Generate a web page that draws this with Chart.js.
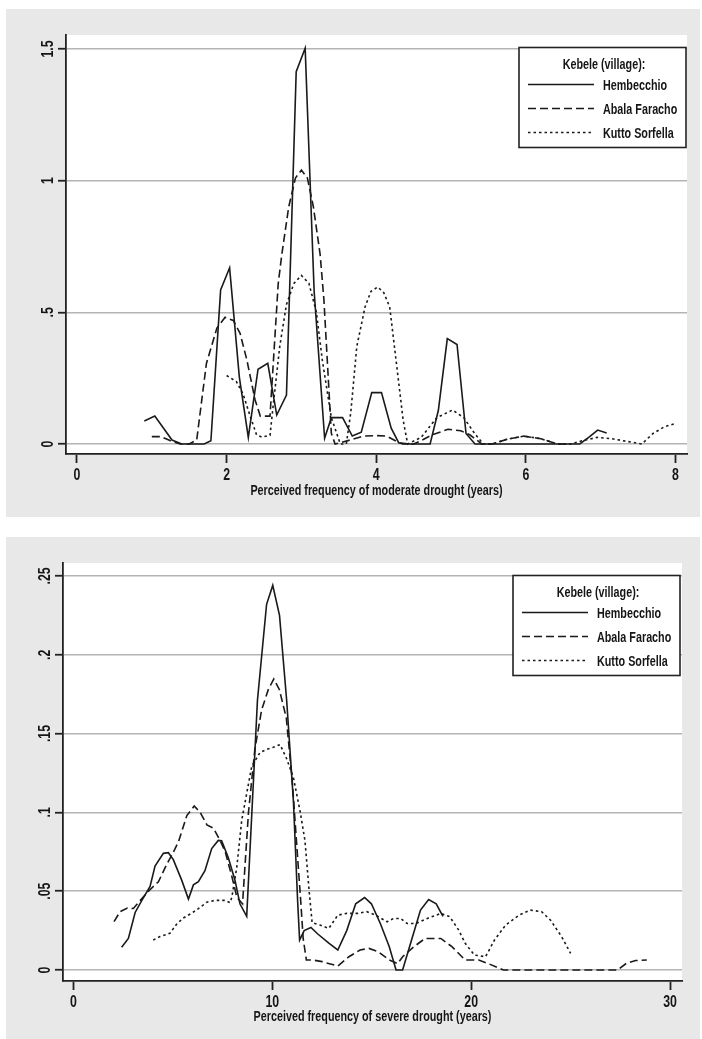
<!DOCTYPE html>
<html>
<head>
<meta charset="utf-8">
<script src="https://cdn.jsdelivr.net/npm/chart.js@4"></script>
<style>
  body { margin: 0; background: #fff; }
  .panel { position: absolute; left: 6px; width: 694px; background: #e8e8e8; }
  .panel canvas { display: block; }
  #top { top: 9px; height: 508px; }
  #bottom { top: 537px; height: 502px; }
</style>
</head>
<body>
<div class="panel" id="top"><canvas id="moderate" width="694" height="508"></canvas></div>
<div class="panel" id="bottom"><canvas id="severe" width="694" height="502"></canvas></div>
<script>
// villages in legend order
var villages = ["Hembecchio", "Abala Faracho", "Kutto Sorfella"];

// --- moderate drought (top chart) ---
var modXTicks = [0, 2, 4, 6, 8];
var modYTicks = [0, 0.5, 1, 1.5];
var modYLabels = ["0", ".5", "1", "1.5"];

var modHembX = [0.90, 1.04, 1.27, 1.40, 1.55, 1.70, 1.79, 1.92, 2.04, 2.17, 2.29, 2.42, 2.55, 2.67, 2.80, 2.93, 3.05, 3.17, 3.31, 3.40, 3.55, 3.68, 3.80, 3.94, 4.07, 4.20, 4.30, 4.45, 4.60, 4.72, 4.83, 4.95, 5.08, 5.20, 5.32, 5.60, 6.00, 6.40, 6.72, 6.84, 6.96, 7.08];
var modHembY = [0.087, 0.106, 0.015, 0, 0, 0, 0.012, 0.585, 0.669, 0.254, 0.025, 0.284, 0.306, 0.110, 0.186, 1.414, 1.503, 0.580, 0.022, 0.100, 0.100, 0.030, 0.045, 0.195, 0.195, 0.060, 0.005, 0, 0, 0, 0.127, 0.400, 0.378, 0.040, 0, 0, 0, 0, 0, 0.025, 0.053, 0.042];

var modAbalaX = [1.00, 1.12, 1.25, 1.38, 1.50, 1.60, 1.73, 1.87, 1.98, 2.09, 2.18, 2.27, 2.38, 2.45, 2.58, 2.69, 2.74, 2.83, 2.92, 3.00, 3.08, 3.16, 3.25, 3.30, 3.40, 3.45, 3.65, 3.83, 4.00, 4.14, 4.27, 4.35, 4.50, 4.60, 4.75, 4.96, 5.13, 5.25, 5.32, 5.41, 5.55, 5.75, 5.97, 6.20, 6.42, 6.60];
var modAbalaY = [0.028, 0.028, 0.012, 0, 0, 0.015, 0.306, 0.440, 0.481, 0.469, 0.420, 0.320, 0.168, 0.106, 0.106, 0.610, 0.724, 0.900, 1.010, 1.040, 1.010, 0.900, 0.720, 0.550, 0.040, 0, 0.015, 0.030, 0.032, 0.030, 0.010, 0, 0, 0.013, 0.035, 0.056, 0.050, 0.035, 0.020, 0, 0, 0.018, 0.030, 0.020, 0, 0];

var modKuttoX = [2.00, 2.13, 2.22, 2.31, 2.40, 2.47, 2.58, 2.62, 2.71, 2.80, 2.90, 3.00, 3.10, 3.20, 3.28, 3.40, 3.52, 3.60, 3.66, 3.74, 3.85, 3.93, 4.02, 4.10, 4.18, 4.26, 4.36, 4.42, 4.60, 4.81, 5.02, 5.17, 5.32, 5.43, 5.55, 5.75, 5.97, 6.20, 6.42, 6.60, 6.75, 6.95, 7.15, 7.35, 7.55, 7.70, 7.85, 8.00];
var modKuttoY = [0.260, 0.237, 0.190, 0.110, 0.035, 0.026, 0.033, 0.140, 0.370, 0.530, 0.610, 0.640, 0.610, 0.500, 0.317, 0.100, 0, 0, 0.120, 0.370, 0.520, 0.580, 0.596, 0.575, 0.520, 0.330, 0.090, 0, 0.025, 0.100, 0.129, 0.100, 0.038, 0, 0, 0.018, 0.030, 0.020, 0, 0, 0.012, 0.025, 0.020, 0.010, 0, 0.040, 0.065, 0.078];

// --- severe drought (bottom chart) ---
var sevXTicks = [0, 10, 20, 30];
var sevYTicks = [0, 0.05, 0.1, 0.15, 0.2, 0.25];
var sevYLabels = ["0", ".05", ".1", ".15", ".2", ".25"];

var sevHembX = [2.42, 2.76, 3.10, 3.43, 3.85, 4.10, 4.52, 4.77, 5.02, 5.44, 5.78, 6.03, 6.28, 6.61, 6.95, 7.28, 7.45, 7.79, 8.12, 8.37, 8.71, 9.25, 9.71, 10.02, 10.36, 10.72, 11.06, 11.27, 11.37, 11.60, 11.94, 12.27, 12.84, 13.29, 13.74, 14.19, 14.64, 14.98, 15.43, 15.88, 16.22, 16.55, 17.00, 17.45, 17.86, 18.24, 18.58];
var sevHembY = [0.0144, 0.020, 0.0365, 0.044, 0.053, 0.066, 0.074, 0.0744, 0.070, 0.057, 0.045, 0.054, 0.056, 0.063, 0.077, 0.0822, 0.082, 0.071, 0.057, 0.042, 0.034, 0.171, 0.232, 0.244, 0.225, 0.171, 0.107, 0.044, 0.019, 0.025, 0.027, 0.023, 0.017, 0.0127, 0.025, 0.042, 0.046, 0.042, 0.0295, 0.0148, 0, 0, 0.019, 0.038, 0.0447, 0.042, 0.034];

var sevAbalaX = [2.04, 2.34, 2.71, 3.01, 3.35, 3.77, 4.27, 4.69, 5.03, 5.28, 5.70, 6.07, 6.37, 6.71, 7.04, 7.38, 7.63, 7.97, 8.22, 8.50, 8.80, 9.12, 9.46, 9.80, 10.07, 10.35, 10.70, 11.00, 11.25, 11.42, 11.55, 11.71, 12.05, 12.50, 13.29, 13.85, 14.41, 14.86, 15.32, 15.88, 16.30, 16.55, 17.12, 17.68, 18.47, 19.03, 19.70, 20.38, 20.83, 21.62, 27.36, 27.80, 28.27, 28.83];
var sevAbalaY = [0.0307, 0.037, 0.0393, 0.039, 0.044, 0.050, 0.056, 0.067, 0.075, 0.0814, 0.098, 0.104, 0.100, 0.092, 0.090, 0.082, 0.075, 0.059, 0.046, 0.042, 0.100, 0.140, 0.165, 0.178, 0.1846, 0.178, 0.160, 0.120, 0.075, 0.045, 0.020, 0.0063, 0.0063, 0.0053, 0.0025, 0.0084, 0.0127, 0.0137, 0.0116, 0.0063, 0.004, 0.0084, 0.0148, 0.020, 0.020, 0.0148, 0.0063, 0.0063, 0.0042, 0, 0, 0.0042, 0.006, 0.0063];

var sevKuttoX = [4.01, 4.35, 4.85, 5.18, 5.52, 5.94, 6.28, 6.70, 7.12, 7.62, 7.87, 7.96, 8.21, 8.46, 8.71, 8.96, 9.38, 9.72, 10.05, 10.39, 10.72, 11.06, 11.39, 11.64, 11.85, 12.00, 12.39, 12.84, 13.29, 13.74, 14.30, 14.75, 15.20, 15.77, 16.10, 16.44, 16.78, 17.23, 17.79, 18.47, 18.92, 19.37, 19.70, 20.16, 20.72, 21.17, 21.73, 22.41, 22.97, 23.54, 23.99, 24.55, 25.00];
var sevKuttoY = [0.019, 0.0212, 0.0233, 0.029, 0.033, 0.036, 0.0389, 0.043, 0.0442, 0.0442, 0.0427, 0.046, 0.065, 0.095, 0.112, 0.129, 0.138, 0.140, 0.1413, 0.143, 0.134, 0.122, 0.101, 0.082, 0.050, 0.030, 0.0285, 0.0264, 0.0348, 0.0359, 0.0359, 0.037, 0.0348, 0.0306, 0.0327, 0.0327, 0.0295, 0.0295, 0.0327, 0.0359, 0.0338, 0.0253, 0.0169, 0.0095, 0.0084, 0.019, 0.0285, 0.0348, 0.038, 0.037, 0.0316, 0.0211, 0.0105];

var font = "'Liberation Sans', Arial, sans-serif";
var ink = '#151515';
var narrow = 0.77;   // stata graph text looks condensed
var dashes = [[], [8, 4], [2.5, 3]];

Chart.defaults.font.family = font;
Chart.defaults.color = ink;

function toPoints(xs, ys) {
    return xs.map(function (x, i) { return { x: x, y: ys[i] }; });
}

function series(i, xs, ys) {
    return {
        label: villages[i],
        data: toPoints(xs, ys),
        showLine: true,
        pointRadius: 0,
        borderColor: '#1a1a1a',
        borderWidth: 1.6,
        borderDash: dashes[i],
        tension: 0
    };
}

// condensed text helper
function text(ctx, str, x, y, size, align, rot) {
    ctx.save();
    ctx.translate(x, y);
    if (rot) ctx.rotate(rot);
    ctx.scale(narrow, 1);
    ctx.font = 'bold ' + size + 'px ' + font;
    ctx.fillStyle = ink;
    ctx.textAlign = align;
    ctx.textBaseline = 'alphabetic';
    ctx.fillText(str, 0, 0);
    ctx.restore();
}

// white plot region
var plotArea = {
    id: 'plotArea',
    beforeDraw: function (chart) {
        var a = chart.chartArea, ctx = chart.ctx;
        ctx.save();
        ctx.fillStyle = '#fff';
        ctx.fillRect(a.left, a.top, a.right - a.left, a.bottom - a.top);
        ctx.restore();
    }
};

// tick labels and axis title
var axisText = {
    id: 'axisText',
    afterDraw: function (chart, args, opts) {
        var ctx = chart.ctx, a = chart.chartArea;
        var sx = chart.scales.x, sy = chart.scales.y;
        sx.ticks.forEach(function (t) {
            text(ctx, t.label, sx.getPixelForValue(t.value), a.bottom + 26, 16, 'center');
        });
        text(ctx, opts.title, (a.left + a.right) / 2, a.bottom + opts.titleGap, 14, 'center');
        sy.ticks.forEach(function (t) {
            text(ctx, t.label, a.left - 13.5, sy.getPixelForValue(t.value), 16, 'center', -Math.PI / 2);
        });
    }
};

// boxed legend with title
var boxLegend = {
    id: 'boxLegend',
    afterDraw: function (chart, args, opts) {
        var ctx = chart.ctx, a = chart.chartArea;
        var w = 167, h = 100;
        var left = a.right - opts.right - w, top = a.top + opts.top;
        ctx.save();
        ctx.fillStyle = '#fff';
        ctx.fillRect(left, top, w, h);
        ctx.strokeStyle = '#222';
        ctx.lineWidth = 1.6;
        ctx.strokeRect(left, top, w, h);
        text(ctx, opts.title, left + 85, top + 21, 14, 'center');
        chart.data.datasets.forEach(function (ds, i) {
            var y = top + 37 + i * 24;
            ctx.strokeStyle = ds.borderColor;
            ctx.lineWidth = ds.borderWidth;
            ctx.setLineDash(ds.borderDash);
            ctx.beginPath();
            ctx.moveTo(left + 9, y);
            ctx.lineTo(left + 75, y);
            ctx.stroke();
            ctx.setLineDash([]);
            text(ctx, ds.label, left + 84, y + 5, 14, 'left');
        });
        ctx.restore();
    }
};

function drawChart(id, c) {
    new Chart(document.getElementById(id), {
        type: 'scatter',
        data: {
            datasets: [
                series(0, c.hx, c.hy),
                series(1, c.ax, c.ay),
                series(2, c.kx, c.ky)
            ]
        },
        options: {
            responsive: false,
            animation: false,
            layout: { padding: { top: 26, right: c.padRight, left: 0, bottom: 0 } },
            scales: {
                x: {
                    type: 'linear',
                    min: c.xMin,
                    max: c.xMax,
                    afterBuildTicks: function (s) { s.ticks = c.xTicks.map(function (v) { return { value: v }; }); },
                    afterFit: function (s) { s.height = c.xHeight; },
                    grid: { drawOnChartArea: false, drawTicks: true, tickLength: 9, tickColor: '#222', tickWidth: 1.8 },
                    border: { display: true, color: '#222', width: 1.8 },
                    ticks: { display: false, callback: function (v) { return String(v); } }
                },
                y: {
                    type: 'linear',
                    min: c.yMin,
                    max: c.yMax,
                    afterBuildTicks: function (s) { s.ticks = c.yTicks.map(function (v) { return { value: v }; }); },
                    afterFit: function (s) { s.width = c.yWidth; },
                    grid: { color: '#b4b4b4', lineWidth: 1.5, drawTicks: true, tickLength: 8, tickColor: '#222', tickWidth: 1.8 },
                    border: { display: true, color: '#222', width: 1.8 },
                    ticks: {
                        display: false,
                        callback: function (v) { return c.yLabels[c.yTicks.indexOf(v)]; }
                    }
                }
            },
            plugins: {
                legend: { display: false },
                tooltip: { enabled: false },
                axisText: { title: c.xTitle, titleGap: c.titleGap },
                boxLegend: { title: 'Kebele (village):', right: c.legRight, top: 12.5 }
            }
        },
        plugins: [plotArea, axisText, boxLegend]
    });
}

drawChart('moderate', {
    hx: modHembX, hy: modHembY, ax: modAbalaX, ay: modAbalaY, kx: modKuttoX, ky: modKuttoY,
    xMin: -0.147, xMax: 8.154, xTicks: modXTicks,
    yMin: -0.038, yMax: 1.553, yTicks: modYTicks, yLabels: modYLabels,
    xTitle: 'Perceived frequency of moderate drought (years)',
    padRight: 13, yWidth: 60, xHeight: 63, titleGap: 41, legRight: 1
});

drawChart('severe', {
    hx: sevHembX, hy: sevHembY, ax: sevAbalaX, ay: sevAbalaY, kx: sevKuttoX, ky: sevKuttoY,
    xMin: -0.528, xMax: 30.6, xTicks: sevXTicks,
    yMin: -0.00698, yMax: 0.2582, yTicks: sevYTicks, yLabels: sevYLabels,
    xTitle: 'Perceived frequency of severe drought (years)',
    padRight: 18, yWidth: 57, xHeight: 58, titleGap: 40, legRight: 2
});
</script>
</body>
</html>
